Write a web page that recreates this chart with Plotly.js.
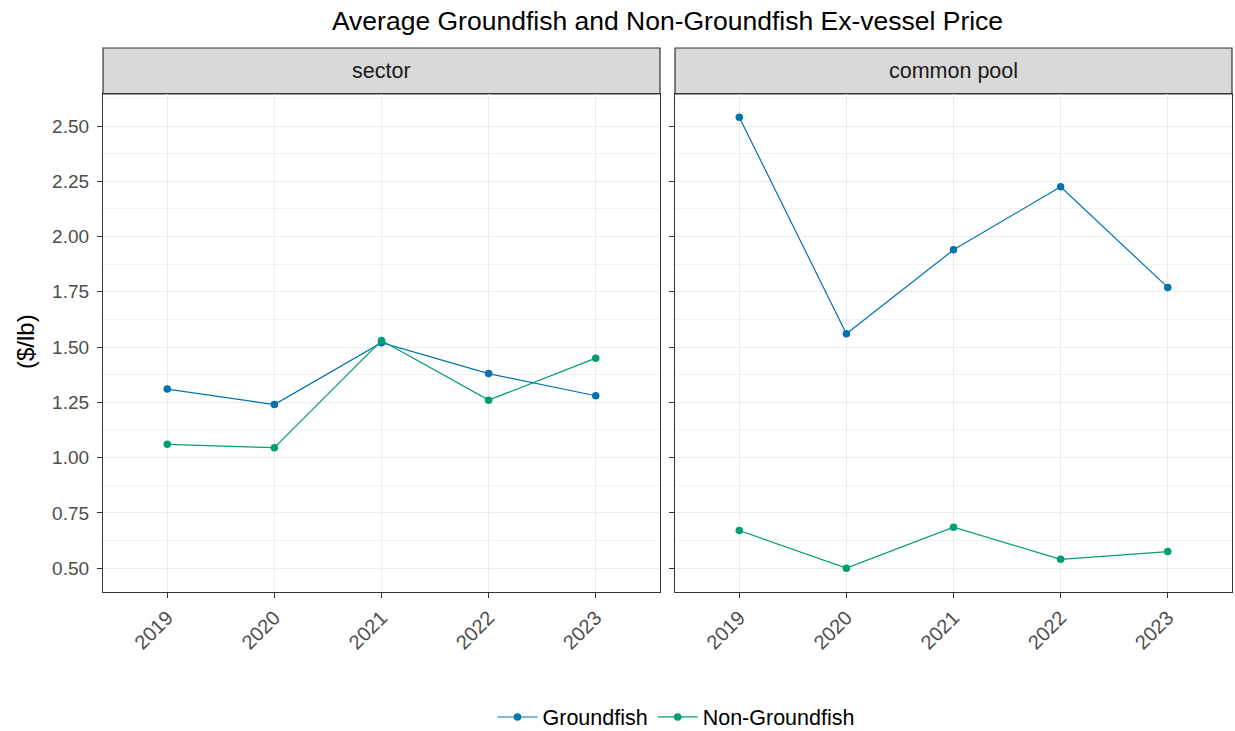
<!DOCTYPE html>
<html>
<head>
<meta charset="utf-8">
<script src="https://cdn.plot.ly/plotly-3.0.1.min.js"></script>
<style>html,body{margin:0;padding:0;background:#fff;}#chart{width:1235px;height:731px;}</style>
</head>
<body>
<div id="chart"></div>
<script>
const years = ['2019', '2020', '2021', '2022', '2023'];
const panels = ['sector', 'common pool'];
const seriesNames = ['Groundfish', 'Non-Groundfish'];
const seriesColors = ['#0072B2', '#009E73'];
const sectorGroundfish = [1.31, 1.24, 1.52, 1.38, 1.28];
const sectorNonGroundfish = [1.06, 1.045, 1.53, 1.26, 1.45];
const poolGroundfish = [2.54, 1.56, 1.94, 2.225, 1.77];
const poolNonGroundfish = [0.67, 0.50, 0.685, 0.54, 0.575];
const yTickVals = [0.50, 0.75, 1.00, 1.25, 1.50, 1.75, 2.00, 2.25, 2.50];

const font = 'Liberation Sans, Arial, sans-serif';
const dataByPanel = [[sectorGroundfish, sectorNonGroundfish], [poolGroundfish, poolNonGroundfish]];
const traces = [];
dataByPanel.forEach((pd, p) => {
  pd.forEach((vals, s) => {
    traces.push({
      x: years, y: vals, type: 'scatter', mode: 'lines+markers',
      name: seriesNames[s], legendgroup: seriesNames[s], showlegend: p === 0,
      xaxis: p === 0 ? 'x' : 'x2', yaxis: p === 0 ? 'y' : 'y2',
      line: {color: seriesColors[s], width: 1.2},
      marker: {color: seriesColors[s], size: 7.5}
    });
  });
});

const L = 103, R = 3, T = 94, B = 139;
const W = 1235, H = 731;
const pw = W - L - R, ph = H - T - B;
const d1 = [0, 557 / pw], d2 = [(675 - L) / pw, 1];
const stripTop = 1 + 46 / ph;

const xBase = {
  type: 'category', range: [-0.6, 4.6], tickangle: -45,
  ticks: 'outside', ticklen: 5, tickcolor: '#333', tickwidth: 1,
  showgrid: true, gridcolor: '#ebebeb', gridwidth: 1,
  showline: true, linecolor: '#333', linewidth: 1.2, mirror: true,
  tickfont: {family: font, size: 20, color: '#4d4d4d'}, zeroline: false, automargin: false
};
const yBase = {
  range: [0.392, 2.645], tickvals: yTickVals, tickformat: '.2f',
  ticks: 'outside', ticklen: 5, tickcolor: '#333', tickwidth: 1,
  showgrid: true, gridcolor: '#ebebeb', gridwidth: 1,
  minor: {dtick: 0.125, tick0: 0.375, showgrid: true, gridcolor: '#f3f3f3', gridwidth: 0.6, ticks: ''},
  showline: true, linecolor: '#333', linewidth: 1.2, mirror: true,
  tickfont: {family: font, size: 19, color: '#4d4d4d'}, zeroline: false, automargin: false
};

const layout = {
  width: W, height: H,
  margin: {l: L, r: R, t: T, b: B, autoexpand: false},
  paper_bgcolor: '#fff', plot_bgcolor: '#fff',
  font: {family: font},
  title: {text: 'Average Groundfish and Non-Groundfish Ex-vessel Price',
    font: {family: font, size: 26.5, color: '#000'},
    x: 0.5, xref: 'paper', xanchor: 'center', y: 1 - 21 / H, yref: 'container', yanchor: 'middle'},
  xaxis: Object.assign({}, xBase, {domain: d1, anchor: 'y'}),
  xaxis2: Object.assign({}, xBase, {domain: d2, anchor: 'y2'}),
  yaxis: Object.assign({}, yBase, {anchor: 'x', ticklabelstandoff: 4}),
  yaxis2: Object.assign({}, yBase, {anchor: 'x2', matches: 'y', showticklabels: false}),
  legend: {orientation: 'h', x: (676 - L) / pw, xanchor: 'center', y: 1 - 717 / H, yref: 'container', yanchor: 'middle',
    font: {family: font, size: 21.5, color: '#000'}, itemwidth: 40, tracegroupgap: 0},
  shapes: [d1, d2].map(d => ({type: 'rect', xref: 'paper', yref: 'paper', x0: d[0], x1: d[1], y0: 1, y1: stripTop,
    fillcolor: '#d9d9d9', line: {color: '#333', width: 1.2}, layer: 'below'})),
  annotations: [d1, d2].map((d, i) => ({text: panels[i], xref: 'paper', yref: 'paper', x: (d[0] + d[1]) / 2,
    y: (1 + stripTop) / 2, xanchor: 'center', yanchor: 'middle', showarrow: false,
    font: {family: font, size: 21.5, color: '#1a1a1a'}})).concat([{
    text: '($/lb)', xref: 'paper', yref: 'paper', x: (25 - L) / pw, y: 0.5 + 1 / ph,
    xanchor: 'center', yanchor: 'middle', textangle: -90, showarrow: false,
    font: {family: font, size: 24, color: '#000'}}])
};

Plotly.newPlot('chart', traces, layout, {displayModeBar: false, responsive: false});
</script>
</body>
</html>
